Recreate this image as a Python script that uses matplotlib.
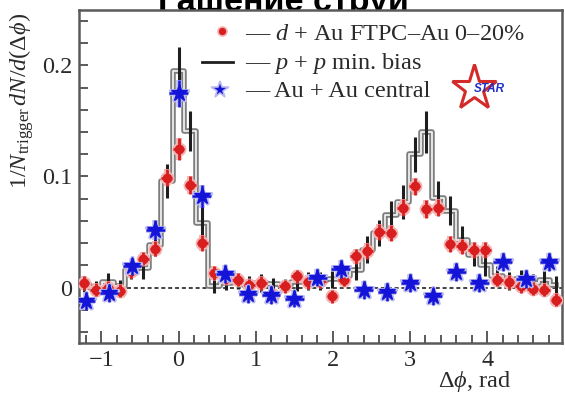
import matplotlib
matplotlib.use("Agg")
import matplotlib.pyplot as plt
from matplotlib.lines import Line2D
from matplotlib.ticker import MultipleLocator

# ---- data: azimuthal correlations, 1/N_trigger dN/d(dphi) ----
# d+Au and p+p share the fine binning
dphi_fine = [-1.224, -1.071, -0.918, -0.765, -0.612, -0.459, -0.306, -0.153,
             0.000, 0.153, 0.306, 0.459, 0.612, 0.765, 0.918, 1.071, 1.224,
             1.377, 1.530, 1.683, 1.836, 1.989, 2.142, 2.295, 2.448, 2.601,
             2.754, 2.907, 3.060, 3.213, 3.366, 3.519, 3.672, 3.825, 3.978,
             4.131, 4.284, 4.437, 4.590, 4.743, 4.896]

dau = [0.004, -0.002, 0.000, -0.003, 0.015, 0.026, 0.035, 0.099, 0.125,
       0.092, 0.040, 0.013, 0.009, 0.007, 0.002, 0.004, -0.007, 0.001, 0.010,
       0.005, 0.006, -0.008, 0.007, 0.028, 0.033, 0.050, 0.049, 0.072, 0.091,
       0.071, 0.072, 0.039, 0.037, 0.034, 0.034, 0.007, 0.005, 0.001, -0.001,
       -0.002, -0.011]
dau_err = [0.006, 0.006, 0.006, 0.006, 0.006, 0.006, 0.007, 0.008, 0.010,
           0.008, 0.007, 0.006, 0.006, 0.006, 0.006, 0.006, 0.006, 0.006,
           0.006, 0.006, 0.006, 0.006, 0.006, 0.007, 0.007, 0.007, 0.007,
           0.008, 0.008, 0.008, 0.008, 0.007, 0.007, 0.007, 0.007, 0.006,
           0.006, 0.006, 0.006, 0.006, 0.006]

pp = [0.002, 0.000, 0.005, 0.001, 0.016, 0.018, 0.038, 0.096, 0.195, 0.141,
      0.058, 0.001, 0.004, 0.005, 0.002, 0.004, 0.003, 0.002, 0.005, 0.006,
      0.006, 0.008, 0.010, 0.016, 0.034, 0.049, 0.065, 0.077, 0.120, 0.140,
      0.081, 0.069, 0.043, 0.029, 0.020, 0.010, 0.006, 0.008, 0.004, 0.007,
      0.002]
pp_err = [0.006, 0.006, 0.008, 0.006, 0.008, 0.010, 0.010, 0.015, 0.022,
          0.018, 0.015, 0.006, 0.006, 0.006, 0.008, 0.008, 0.006, 0.006,
          0.008, 0.008, 0.008, 0.008, 0.008, 0.009, 0.012, 0.012, 0.013,
          0.015, 0.016, 0.019, 0.015, 0.013, 0.012, 0.010, 0.010, 0.009,
          0.008, 0.008, 0.008, 0.008, 0.008]

# Au+Au central uses coarser bins
dphi_coarse = [-1.2, -0.9, -0.6, -0.3, 0.0, 0.3, 0.6, 0.9, 1.2, 1.5, 1.8,
               2.1, 2.4, 2.7, 3.0, 3.3, 3.6, 3.9, 4.2, 4.5, 4.8]
auau = [-0.012, -0.005, 0.019, 0.052, 0.175, 0.082, 0.012, -0.006, -0.007,
        -0.010, 0.009, 0.017, -0.002, -0.004, 0.004, -0.008, 0.014, 0.004,
        0.023, 0.008, 0.023]
auau_err = [0.008, 0.008, 0.008, 0.009, 0.012, 0.010, 0.008, 0.008, 0.008,
            0.008, 0.008, 0.008, 0.008, 0.008, 0.008, 0.008, 0.008, 0.008,
            0.008, 0.008, 0.008]

legend_labels = ["\u2014 $d$ + Au FTPC\u2013Au 0\u201320%",
                 "\u2014 $p$ + $p$ min. bias",
                 "\u2014 Au + Au central"]
title_text = "Гашение струй"

# ---- style ----
plt.rcParams["font.family"] = ["Liberation Serif", "DejaVu Serif"]
plt.rcParams["mathtext.fontset"] = "custom"
plt.rcParams["mathtext.rm"] = "Liberation Serif"
plt.rcParams["mathtext.it"] = "Liberation Serif:italic"
plt.rcParams["mathtext.bf"] = "Liberation Serif:bold"
plt.rcParams["mathtext.fallback"] = "stix"
FS = 17.5
RED = "#d81e1e"
RED_HALO = "#f2b4b4"
BLUE = "#1414d8"
BLUE_HALO = "#bcbcf0"
FRAME = "#5a5a5a"

W, H = 565, 395
fig = plt.figure(figsize=(W / 100, H / 100), dpi=100)
L, R, T, B = 79, 562, 10, 343
ax = fig.add_axes([L / W, 1 - B / H, (R - L) / W, (B - T) / H])

# zero baseline
ax.axhline(0, color="#333333", lw=1.3, ls=(0, (2.2, 1.6)), zorder=1)

# p+p histogram (hollow grey outline) with its error bars
ax.step(dphi_fine, pp, where="mid", color="#7e7e7e", lw=4.0, zorder=2)
ax.step(dphi_fine, pp, where="mid", color="#eeeeee", lw=1.3, zorder=2.1)
ax.errorbar(dphi_fine, pp, yerr=pp_err, fmt="none", ecolor="#1e1e1e",
            elinewidth=2.2, capsize=0, zorder=2.5)

# d+Au points: soft halo first, then the marker
ax.errorbar(dphi_fine, dau, yerr=dau_err, xerr=0.07, fmt="o", color=RED_HALO,
            ms=9, elinewidth=4.2, capsize=0, mec=RED_HALO, zorder=3)
ax.errorbar(dphi_fine, dau, yerr=dau_err, xerr=0.07, fmt="o", color=RED,
            ms=6, elinewidth=2.0, capsize=0, mec=RED, zorder=3.2)

# Au+Au points
ax.errorbar(dphi_coarse, auau, yerr=auau_err, xerr=0.12, fmt="*",
            color=BLUE_HALO, ms=15, elinewidth=4.0, capsize=0,
            mec=BLUE_HALO, mew=2.2, zorder=3.4)
ax.errorbar(dphi_coarse, auau, yerr=auau_err, xerr=0.12, fmt="*",
            color=BLUE, ms=12.5, elinewidth=1.8, capsize=0, mec=BLUE,
            zorder=3.6)

ax.set_xlim(-1.29, 4.97)
ax.set_ylim(-0.05, 0.25)

ax.xaxis.set_major_locator(MultipleLocator(1))
ax.xaxis.set_minor_locator(MultipleLocator(0.2))
ax.yaxis.set_major_locator(MultipleLocator(0.1))
ax.yaxis.set_minor_locator(MultipleLocator(0.02))
ax.yaxis.set_major_formatter(plt.FuncFormatter(
    lambda v, p: "0" if abs(v) < 1e-9 else f"{v:.1f}".replace("-", "\u2212")))

ax.tick_params(which="both", direction="in", color=FRAME, width=1.4,
               labelsize=FS, top=False, right=False, labelcolor="#2a2a2a")
ax.tick_params(axis="x", which="major", length=8.5, pad=5)
ax.tick_params(axis="x", which="minor", length=6)
ax.tick_params(axis="y", which="both", length=6.2, pad=5)
for s in ax.spines.values():
    s.set_color(FRAME)
    s.set_linewidth(1.8)

ax.set_xlabel(r"$\Delta\phi$, rad", fontsize=FS, color="#2a2a2a",
              va="center")
ax.xaxis.set_label_coords((474 - L) / (R - L), (B - 382) / (B - T))
ax.set_ylabel(r"$1/N_{\rm trigger}\,dN/d(\Delta\phi)$", fontsize=FS,
              color="#2a2a2a", va="center", ha="center")
ax.yaxis.set_label_coords((22 - L) / (R - L), (B - 101) / (B - T))

# title, partly hidden above the canvas
fig.text(283 / W, 1 - 11 / H, title_text, family="Liberation Sans",
         weight="bold", fontsize=24.5, ha="center", va="baseline",
         color="black", zorder=-1)


def fpt(x, y):
    return x / W, 1 - y / H


# legend entries
handles = [
    dict(xy=[(222, 31)], kw=dict(marker="o", ms=6.5, color=RED, mec=RED_HALO,
                                 mew=1.2, ls="none")),
    dict(xy=[(202, 62), (233, 62)], kw=dict(color="#1e1e1e", lw=2.0)),
    dict(xy=[(220, 90)], kw=dict(marker="*", ms=13, color=BLUE,
                                 mec=BLUE_HALO, mew=1.2, ls="none")),
]
for h in handles:
    xs = [fpt(*p)[0] for p in h["xy"]]
    ys = [fpt(*p)[1] for p in h["xy"]]
    fig.add_artist(Line2D(xs, ys, transform=fig.transFigure, **h["kw"]))

for label, yb in zip(legend_labels, [39.5, 68.5, 97]):
    fig.text(*fpt(245, yb), label, fontsize=FS, ha="left", va="baseline",
             color="#2a2a2a")

# STAR logo
fig.add_artist(Line2D([fpt(474, 88)[0]], [fpt(474, 88)[1]],
                      transform=fig.transFigure, marker="*", ms=34,
                      mfc="white", mec="#d42a2a", mew=2.2, ls="none"))
fig.text(*fpt(489, 89), "STAR", family="Liberation Sans", weight="bold",
         style="italic", fontsize=8.5, color="#2030c8", ha="center",
         va="center")

fig.savefig("out.png", dpi=100)
